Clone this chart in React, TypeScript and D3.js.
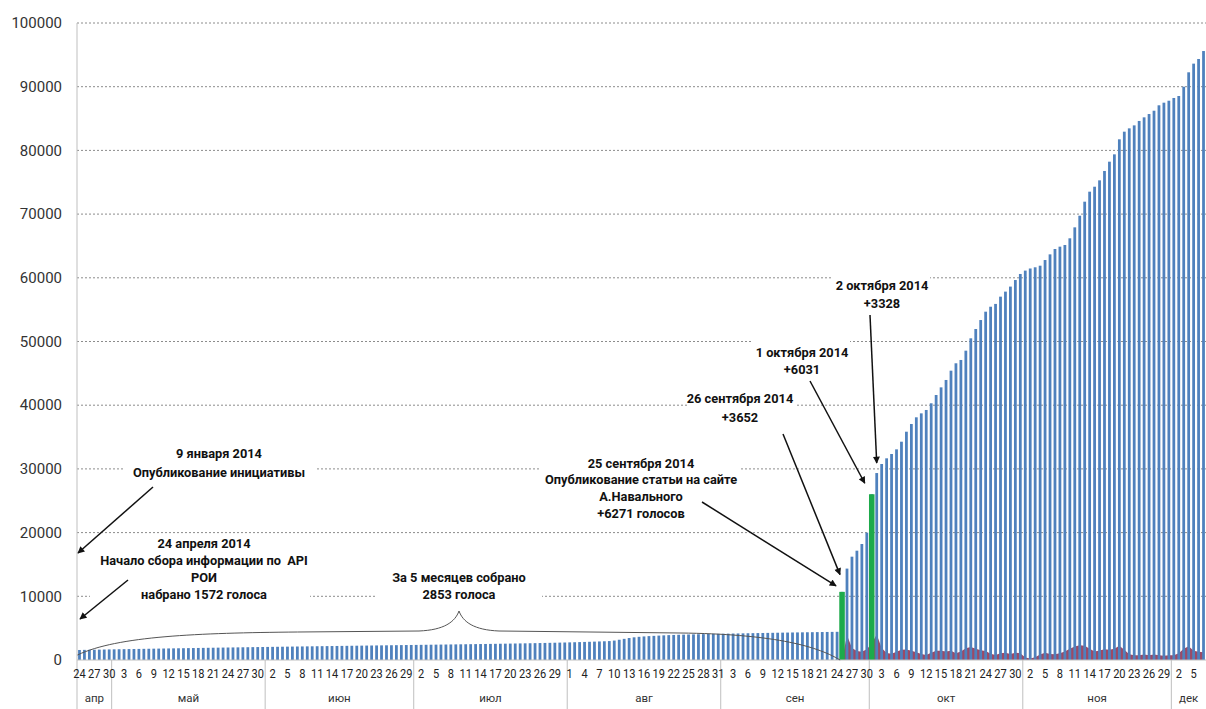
import React from 'react';
import * as d3 from 'd3';

// cumulative votes per day, Apr 24 .. Dec 7 2014
const votesApr = [1572, 1590, 1605, 1618, 1630, 1645, 1660];
const votesMay = [1675, 1690, 1702, 1715, 1728, 1740, 1752, 1765, 1778, 1790, 1802, 1815, 1828, 1840, 1852, 1865, 1878, 1890, 1902, 1915, 1926, 1938, 1950, 1962, 1973, 1985, 1996, 2008, 2020, 2031, 2042];
const votesJun = [2053, 2064, 2075, 2086, 2097, 2108, 2118, 2129, 2140, 2150, 2161, 2172, 2182, 2193, 2203, 2214, 2224, 2235, 2245, 2256, 2266, 2276, 2287, 2297, 2307, 2318, 2328, 2338, 2349, 2359];
const votesJul = [2369, 2380, 2390, 2400, 2411, 2421, 2431, 2442, 2452, 2463, 2473, 2484, 2495, 2506, 2517, 2528, 2540, 2552, 2564, 2577, 2590, 2603, 2617, 2631, 2646, 2662, 2678, 2695, 2712, 2730, 2748];
const votesAug = [2768, 2790, 2812, 2836, 2860, 2885, 2912, 2940, 2970, 3050, 3180, 3320, 3450, 3560, 3640, 3700, 3750, 3790, 3830, 3870, 3905, 3935, 3960, 3985, 4005, 4025, 4045, 4062, 4080, 4095, 4110];
const votesSep = [4125, 4140, 4155, 4170, 4185, 4200, 4215, 4228, 4242, 4256, 4270, 4283, 4296, 4308, 4320, 4332, 4344, 4356, 4367, 4378, 4390, 4402, 4413, 4425, 10696, 14348, 16220, 17160, 18210, 19990];
const votesOct = [26021, 29349, 30770, 31660, 32340, 33070, 34270, 35840, 37050, 38100, 38720, 39250, 40300, 41600, 42800, 43960, 45420, 46580, 47100, 48560, 50500, 51960, 53370, 54680, 55460, 55900, 57040, 57830, 58620, 59650, 60600];
const votesNov = [61130, 61460, 61650, 61900, 62790, 63680, 64520, 64890, 65150, 66200, 67920, 69750, 71950, 73520, 74300, 75300, 76770, 78230, 79380, 81740, 82940, 83460, 83930, 84620, 85190, 85710, 86230, 87080, 87490, 87800];
const votesDec = [88230, 88540, 90000, 92260, 93620, 94350, 95600];

const monthNames = ['апр', 'май', 'июн', 'июл', 'авг', 'сен', 'окт', 'ноя', 'дек'];
const monthFirstDay = [24, 1, 1, 1, 1, 1, 1, 1, 1];
const monthVotes = [votesApr, votesMay, votesJun, votesJul, votesAug, votesSep, votesOct, votesNov, votesDec];

// daily series (red area), starting Sep 25
const gainSep = [0, 3900, 1900, 1400, 1300, 1700];
const gainOct = [2600, 4000, 1900, 1100, 1000, 1300, 1600, 1650, 1450, 1200, 950, 800, 1150, 1450, 1450, 1350, 1450, 1050, 1350, 1850, 2050, 1750, 1550, 1400, 1000, 800, 1050, 1150, 950, 1150, 1050];
const gainNov = [400, 250, 450, 850, 1150, 950, 900, 1050, 1350, 1750, 2100, 2300, 2250, 1750, 1350, 1500, 1700, 1600, 1750, 2250, 1600, 900, 750, 750, 850, 750, 850, 750, 650, 750];
const gainDec = [750, 1050, 1750, 2150, 1450, 1300, 1200];
const gainParts = [
  { month: 5, first: 25, values: gainSep },
  { month: 6, first: 1, values: gainOct },
  { month: 7, first: 1, values: gainNov },
  { month: 8, first: 1, values: gainDec },
];

const highlightKeys = ['5-25', '6-1'];

const W = 1206;
const H = 709;
const left = 77;
const top = 23;
const bottom = 660;
const font = 'Roboto, "Liberation Sans", sans-serif';

const days = monthVotes.flatMap((vals, mi) =>
  vals.map((v, i) => ({ key: `${mi}-${monthFirstDay[mi] + i}`, mi, day: monthFirstDay[mi] + i, votes: v }))
);
const byKey = new Map(days.map((d) => [d.key, d]));
const gains = gainParts.flatMap((p) => p.values.map((v, i) => ({ key: `${p.month}-${p.first + i}`, v })));

const x = d3.scaleBand<string>().domain(days.map((d) => d.key)).range([left, W]).padding(0);
const y = d3.scaleLinear().domain([0, 100000]).range([bottom, top]);
const bw = x.bandwidth();
const cx = (k: string) => (x(k) as number) + bw / 2;

const annotations = [
  { lines: ['9 января 2014', 'Опубликование инициативы'], cxT: 219, y0: 457.5, lh: 19, box: [123, 443, 192, 42] },
  { lines: ['24 апреля 2014', 'Начало сбора информации по  API', 'РОИ', 'набрано 1572 голоса'], cxT: 204, y0: 547.5, lh: 17.3, box: [90, 535, 220, 70] },
  { lines: ['За 5 месяцев собрано', '2853 голоса'], cxT: 459, y0: 581.5, lh: 17, box: [377, 568, 165, 36] },
  { lines: ['25 сентября 2014', 'Опубликование статьи на сайте', 'А.Навального', '+6271 голосов'], cxT: 641, y0: 467.5, lh: 16.7, box: [540, 453, 200, 69] },
  { lines: ['26 сентября 2014', '+3652'], cxT: 740, y0: 402.5, lh: 19, box: [687, 389, 110, 38] },
  { lines: ['1 октября 2014', '+6031'], cxT: 802, y0: 356.5, lh: 17, box: [753, 336, 97, 44] },
  { lines: ['2 октября 2014', '+3328'], cxT: 882, y0: 289.5, lh: 18, box: [833, 272, 97, 40] },
];

export default function App() {
  const yTicks = y.ticks(10);
  const area = d3
    .area<{ key: string; v: number }>()
    .x((d) => cx(d.key))
    .y0(y(0))
    .y1((d) => y(d.v));

  const sep25 = byKey.get('5-25')!;
  const sep26 = byKey.get('5-26')!;
  const oct1 = byKey.get('6-1')!;
  const oct2 = byKey.get('6-2')!;
  const arrows = [
    [153, 487, 78, 553],
    [128, 580, 80, 619],
    [702, 502, cx(sep25.key) - 6, y(sep25.votes) - 6],
    [783, 434, cx(sep26.key) - 7, y(sep26.votes) + 6],
    [810, 381, cx(oct1.key) - 7, y(oct1.votes) - 11],
    [870, 315, cx(oct2.key), y(oct2.votes) - 10],
  ];

  const bx0 = cx(days[0].key) - 2;
  const bx1 = cx('5-24') + 3;
  const bxm = 459;
  const brace = `M${bx0},655 C${bx0 + 40},636 ${bx0 + 120},633 ${bx0 + 220},632 L${bxm - 40},631 C${bxm - 15},630 ${bxm - 4},622 ${bxm},611 C${bxm + 4},622 ${bxm + 15},630 ${bxm + 40},631 L${bx1 - 160},633 C${bx1 - 70},634 ${bx1 - 25},645 ${bx1},660`;

  const months = monthNames.map((name, mi) => {
    const ds = days.filter((d) => d.mi === mi);
    const x0 = x(ds[0].key) as number;
    const x1 = (x(ds[ds.length - 1].key) as number) + bw;
    return { name, x0, x1 };
  });

  return (
    <svg width={W} height={H} style={{ position: 'absolute', left: 0, top: 0, background: '#fff' }} fontFamily={font}>
      <defs>
        <marker id="ah" viewBox="0 0 10 10" refX="9" refY="5" markerWidth="8" markerHeight="7" markerUnits="userSpaceOnUse" orient="auto">
          <path d="M0,0 L10,5 L0,10 z" fill="#111" />
        </marker>
      </defs>
      {yTicks.filter((t) => t > 0).map((t) => (
        <line key={t} x1={left} x2={W} y1={y(t)} y2={y(t)} stroke="#8c8c8c" strokeDasharray="2 2" strokeWidth={1} />
      ))}
      {annotations.map((a, i) => (
        <rect key={i} x={a.box[0]} y={a.box[1]} width={a.box[2]} height={a.box[3]} fill="#fff" />
      ))}
      <path d={area(gains) || ''} fill="#9c4a66" />
      {days.map((d) => (
        <rect key={d.key} x={cx(d.key) - bw * 0.28} width={bw * 0.56} y={y(d.votes)} height={bottom - y(d.votes)} fill="#4f81bd" />
      ))}
      {highlightKeys.map((k) => {
        const d = byKey.get(k)!;
        return <rect key={k} x={cx(k) - bw * 0.56} width={bw * 1.12} y={y(d.votes)} height={bottom - y(d.votes)} fill="#1daa4b" />;
      })}
      <line x1={left} x2={W} y1={bottom} y2={bottom} stroke="#bfbfbf" />
      <line x1={left} x2={left} y1={top} y2={H} stroke="#bfbfbf" />
      {months.slice(1).map((m) => (
        <line key={m.name} x1={m.x0} x2={m.x0} y1={bottom} y2={H} stroke="#bfbfbf" />
      ))}
      {yTicks.map((t) => (
        <text key={t} x={62} y={y(t)} dy="0.35em" textAnchor="end" fontSize={15} fill="#333">
          {t}
        </text>
      ))}
      {days.filter((_, i) => i % 3 === 0).map((d) => (
        <text key={d.key} transform={`translate(${cx(d.key)},678) scale(0.82,1)`} textAnchor="middle" fontSize={13.5} fill="#222">
          {d.day}
        </text>
      ))}
      {months.map((m) => (
        <text key={m.name} x={(m.x0 + m.x1) / 2} y={702} textAnchor="middle" fontSize={11.5} fill="#333">
          {m.name}
        </text>
      ))}
      <path d={brace} fill="none" stroke="#555" strokeWidth={1} />
      {annotations.map((a, i) => (
        <text key={i} textAnchor="middle" fontSize={12.8} fontWeight="bold" fill="#111" style={{ whiteSpace: 'pre' }}>
          {a.lines.map((l, j) => (
            <tspan key={j} x={a.cxT} y={a.y0 + j * a.lh}>
              {l}
            </tspan>
          ))}
        </text>
      ))}
      {arrows.map((a, i) => (
        <line key={i} x1={a[0]} y1={a[1]} x2={a[2]} y2={a[3]} stroke="#111" strokeWidth={1.5} markerEnd="url(#ah)" />
      ))}
    </svg>
  );
}
